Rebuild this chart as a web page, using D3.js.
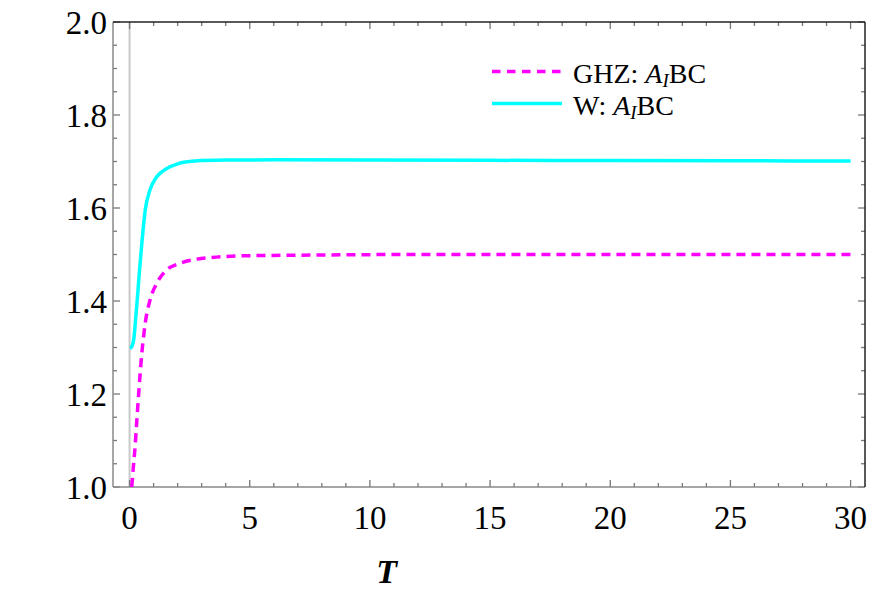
<!DOCTYPE html>
<html><head><meta charset="utf-8"><script src="https://cdn.jsdelivr.net/npm/d3@7"></script></head>
<body style="margin:0">
<svg id="chart" width="872" height="598"></svg>
<script>
// ---- data ----
const wT   = [0.02, 0.1, 0.18, 0.25, 0.33, 0.42, 0.52, 0.65, 0.85, 1.13, 1.55, 2.0, 2.7, 4.0, 6, 10, 15, 20, 25, 30];
const wV   = [1.298, 1.303, 1.32, 1.36, 1.41, 1.47, 1.53, 1.595, 1.639, 1.667, 1.685, 1.695, 1.701, 1.703, 1.7035, 1.703, 1.7025, 1.702, 1.7015, 1.701];
const ghzT = [0.09, 0.16, 0.23, 0.3, 0.37, 0.51, 0.65, 0.85, 1.13, 1.55, 2.1, 2.8, 3.8, 4.6, 6, 8, 12, 20, 30];
const ghzV = [1.0, 1.045, 1.087, 1.142, 1.194, 1.288, 1.352, 1.402, 1.438, 1.467, 1.481, 1.490, 1.495, 1.497, 1.498, 1.499, 1.5, 1.5, 1.5];
const xMajorTicks = [0, 5, 10, 15, 20, 25, 30];
const yMajorTicks = [1.0, 1.2, 1.4, 1.6, 1.8, 2.0];
const yTickLabels = ["1.0", "1.2", "1.4", "1.6", "1.8", "2.0"];
const seriesNames = ["GHZ", "W"];
const xLabel = "T";

// ---- layout ----
const svg = d3.select("#chart");
const L = 113, R = 865, T = 22, B = 487;
const x = d3.scaleLinear().domain([-0.69, 30.6]).range([L, R]);
const y = d3.scaleLinear().domain([1.0, 2.0]).range([B, T]);

svg.append("defs").append("clipPath").attr("id", "clip")
  .append("rect").attr("x", L).attr("y", T).attr("width", R - L).attr("height", B - T);

// vertical line at T = 0
svg.append("line")
  .attr("x1", x(0)).attr("x2", x(0)).attr("y1", T).attr("y2", B)
  .attr("stroke", "#c8c8c8").attr("stroke-width", 2);

// ticks
const xMinor = d3.range(0, 31, 1).filter(v => v % 5 !== 0);
const yMinor = d3.range(1.0, 2.0001, 0.05).filter(v => Math.abs(v * 5 - Math.round(v * 5)) > 1e-6);
const tickG = svg.append("g").attr("stroke", "#777").attr("stroke-width", 1.3);
function xt(v, len) {
  tickG.append("line").attr("x1", x(v)).attr("x2", x(v)).attr("y1", B).attr("y2", B - len);
  tickG.append("line").attr("x1", x(v)).attr("x2", x(v)).attr("y1", T).attr("y2", T + len);
}
function yt(v, len) {
  tickG.append("line").attr("y1", y(v)).attr("y2", y(v)).attr("x1", L).attr("x2", L + len);
  tickG.append("line").attr("y1", y(v)).attr("y2", y(v)).attr("x1", R).attr("x2", R - len);
}
xMajorTicks.forEach(v => xt(v, 7));
xMinor.forEach(v => xt(v, 4));
yMajorTicks.forEach(v => yt(v, 7));
yMinor.forEach(v => yt(v, 4));

// frame
svg.append("line").attr("x1", L).attr("x2", L).attr("y1", T).attr("y2", B).attr("stroke", "#888").attr("stroke-width", 1.5);
svg.append("line").attr("x1", L).attr("x2", R).attr("y1", B).attr("y2", B).attr("stroke", "#888").attr("stroke-width", 1.5);
svg.append("line").attr("x1", L).attr("x2", R).attr("y1", T).attr("y2", T).attr("stroke", "#222").attr("stroke-width", 1.5);
svg.append("line").attr("x1", R).attr("x2", R).attr("y1", T).attr("y2", B).attr("stroke", "#222").attr("stroke-width", 1.5);

// tick labels
svg.append("g").selectAll("text").data(yMajorTicks).join("text")
  .attr("x", 107).attr("y", d => y(d) + 12)
  .attr("text-anchor", "end").attr("font-size", 33)
  .style("font-family", "Liberation Serif")
  .text((d, i) => yTickLabels[i]);
svg.append("g").selectAll("text").data(xMajorTicks).join("text")
  .attr("x", d => x(d)).attr("y", 529)
  .attr("text-anchor", "middle").attr("font-size", 33)
  .style("font-family", "Liberation Serif")
  .text(d => d);

// axis title
svg.append("text").attr("x", x(10.7)).attr("y", 583)
  .attr("text-anchor", "middle").attr("font-size", 34)
  .style("font-family", "Liberation Serif")
  .attr("font-weight", "bold").attr("font-style", "italic")
  .text(xLabel);

// curves
const line = d3.line().x(d => x(d[0])).y(d => y(d[1])).curve(d3.curveMonotoneX);
const plot = svg.append("g").attr("clip-path", "url(#clip)");
plot.append("path").datum(d3.zip(wT, wV))
  .attr("d", line).attr("fill", "none")
  .attr("stroke", "#00ffff").attr("stroke-width", 3.5);
plot.append("path").datum(d3.zip(ghzT, ghzV))
  .attr("d", line).attr("fill", "none")
  .attr("stroke", "#ff00ff").attr("stroke-width", 3.5)
  .attr("stroke-dasharray", "9,6");

// legend
const legend = svg.append("g");
const legY = [71.5, 103.5];
const legStyles = [
  { color: "#ff00ff", dash: "8.5,6.5" },
  { color: "#00ffff", dash: null }
];
seriesNames.forEach((name, i) => {
  const ln = legend.append("line")
    .attr("x1", 492).attr("x2", 562).attr("y1", legY[i]).attr("y2", legY[i])
    .attr("stroke", legStyles[i].color).attr("stroke-width", 3.5);
  if (legStyles[i].dash) ln.attr("stroke-dasharray", legStyles[i].dash);
  const t = legend.append("text").attr("x", 573).attr("y", legY[i] + 11.5)
    .attr("font-size", 28).style("font-family", "Liberation Serif");
  t.append("tspan").text(name + ": ");
  t.append("tspan").attr("font-style", "italic").text("A");
  t.append("tspan").attr("font-style", "italic").attr("font-size", 19).attr("dy", 4).text("I");
  t.append("tspan").attr("dy", -4).text("BC");
});
</script>
</body>
</html>
